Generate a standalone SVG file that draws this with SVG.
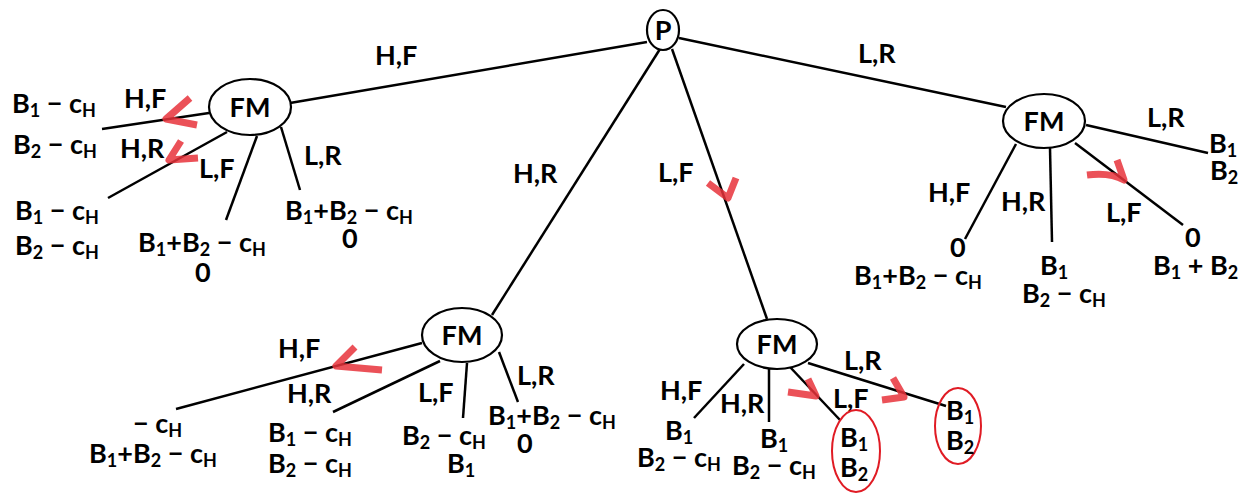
<svg xmlns="http://www.w3.org/2000/svg" width="1251" height="495" viewBox="0 0 1251 495">
<style>
.t{font-family:Lato,"Open Sans","Liberation Sans",sans-serif;font-weight:bold;font-size:27px;fill:#000}
.s{font-size:18px}
.n{fill:#fff;stroke:#000;stroke-width:2.2}
.r{fill:none;stroke:#e01b24;stroke-width:2}
.e line{stroke:#000;stroke-width:2.5}
.ck{fill:none;stroke:#e8333b;stroke-opacity:0.85;stroke-width:7;stroke-linecap:butt;stroke-linejoin:round}
</style>
<rect width="1251" height="495" fill="#fff"/>
<g id="connectors" class="e">
<line x1="647" y1="42" x2="290" y2="103"/>
<line x1="660" y1="49" x2="492" y2="315"/>
<line x1="672" y1="49" x2="767" y2="319"/>
<line x1="679" y1="38" x2="1006" y2="107"/>
<line x1="209" y1="113" x2="102" y2="129"/>
<line x1="227" y1="132" x2="108" y2="198"/>
<line x1="257" y1="136" x2="226" y2="220"/>
<line x1="281" y1="127" x2="300" y2="190"/>
<line x1="422" y1="343" x2="176" y2="409"/>
<line x1="440" y1="361" x2="333" y2="412"/>
<line x1="467" y1="363" x2="463" y2="418"/>
<line x1="499" y1="352" x2="518" y2="402"/>
<line x1="744" y1="364" x2="694" y2="418"/>
<line x1="769" y1="369" x2="769" y2="422"/>
<line x1="790" y1="367" x2="840" y2="420"/>
<line x1="808" y1="363" x2="946" y2="406"/>
<line x1="1086" y1="125" x2="1208" y2="153"/>
<line x1="1016" y1="144" x2="965" y2="239"/>
<line x1="1050" y1="148" x2="1052" y2="242"/>
<line x1="1075" y1="143" x2="1183" y2="225"/>
</g>
<g id="P"><ellipse class="n" cx="663" cy="30" rx="16" ry="20"/><text class="t" x="663" y="40" text-anchor="middle">P</text></g>
<g id="FM-left"><ellipse class="n" cx="250" cy="107" rx="41" ry="28"/><text class="t" x="250" y="117" text-anchor="middle">FM</text></g>
<g id="FM-bottom-left"><ellipse class="n" cx="462" cy="335" rx="40" ry="27"/><text class="t" x="462" y="345" text-anchor="middle">FM</text></g>
<g id="FM-bottom-mid"><ellipse class="n" cx="777" cy="344" rx="40" ry="25"/><text class="t" x="777" y="354" text-anchor="middle">FM</text></g>
<g id="FM-right"><ellipse class="n" cx="1044" cy="121" rx="41" ry="27"/><text class="t" x="1044" y="131" text-anchor="middle">FM</text></g>
<g id="labels-top">
<text class="t" x="375" y="65">H,F</text>
<text class="t" x="513" y="183">H,R</text>
<text class="t" x="658" y="182">L,F</text>
<text class="t" x="858" y="63">L,R</text>
</g>
<g id="leaves-left">
<text class="t" x="124" y="108">H,F</text>
<text class="t" x="120" y="158">H,R</text>
<text class="t" x="199" y="178">L,F</text>
<text class="t" x="304" y="165">L,R</text>
<text class="t" x="12" y="113">B<tspan class="s" dy="4">1</tspan><tspan dy="-4"> − c</tspan><tspan class="s" dy="4">H</tspan></text>
<text class="t" x="13" y="154">B<tspan class="s" dy="4">2</tspan><tspan dy="-4"> − c</tspan><tspan class="s" dy="4">H</tspan></text>
<text class="t" x="15" y="220">B<tspan class="s" dy="4">1</tspan><tspan dy="-4"> − c</tspan><tspan class="s" dy="4">H</tspan></text>
<text class="t" x="15" y="255">B<tspan class="s" dy="4">2</tspan><tspan dy="-4"> − c</tspan><tspan class="s" dy="4">H</tspan></text>
<text class="t" x="138" y="252">B<tspan class="s" dy="4">1</tspan><tspan dy="-4">+B</tspan><tspan class="s" dy="4">2</tspan><tspan dy="-4"> − c</tspan><tspan class="s" dy="4">H</tspan></text>
<text class="t" x="195" y="282">0</text>
<text class="t" x="285" y="220">B<tspan class="s" dy="4">1</tspan><tspan dy="-4">+B</tspan><tspan class="s" dy="4">2</tspan><tspan dy="-4"> − c</tspan><tspan class="s" dy="4">H</tspan></text>
<text class="t" x="342" y="248">0</text>
</g>
<g id="leaves-bottom-left">
<text class="t" x="278" y="358">H,F</text>
<text class="t" x="287" y="403">H,R</text>
<text class="t" x="418" y="402">L,F</text>
<text class="t" x="517" y="385">L,R</text>
<text class="t" x="133" y="433">− c<tspan class="s" dy="4">H</tspan></text>
<text class="t" x="89" y="463">B<tspan class="s" dy="4">1</tspan><tspan dy="-4">+B</tspan><tspan class="s" dy="4">2</tspan><tspan dy="-4"> − c</tspan><tspan class="s" dy="4">H</tspan></text>
<text class="t" x="268" y="442">B<tspan class="s" dy="4">1</tspan><tspan dy="-4"> − c</tspan><tspan class="s" dy="4">H</tspan></text>
<text class="t" x="268" y="473">B<tspan class="s" dy="4">2</tspan><tspan dy="-4"> − c</tspan><tspan class="s" dy="4">H</tspan></text>
<text class="t" x="402" y="445">B<tspan class="s" dy="4">2</tspan><tspan dy="-4"> − c</tspan><tspan class="s" dy="4">H</tspan></text>
<text class="t" x="447" y="473">B<tspan class="s" dy="4">1</tspan></text>
<text class="t" x="488" y="425">B<tspan class="s" dy="4">1</tspan><tspan dy="-4">+B</tspan><tspan class="s" dy="4">2</tspan><tspan dy="-4"> − c</tspan><tspan class="s" dy="4">H</tspan></text>
<text class="t" x="517" y="453">0</text>
</g>
<g id="leaves-bottom-mid">
<text class="t" x="660" y="400">H,F</text>
<text class="t" x="720" y="413">H,R</text>
<text class="t" x="833" y="408">L,F</text>
<text class="t" x="844" y="370">L,R</text>
<text class="t" x="665" y="440">B<tspan class="s" dy="4">1</tspan></text>
<text class="t" x="637" y="467">B<tspan class="s" dy="4">2</tspan><tspan dy="-4"> − c</tspan><tspan class="s" dy="4">H</tspan></text>
<text class="t" x="760" y="448">B<tspan class="s" dy="4">1</tspan></text>
<text class="t" x="732" y="475">B<tspan class="s" dy="4">2</tspan><tspan dy="-4"> − c</tspan><tspan class="s" dy="4">H</tspan></text>
<ellipse class="r" cx="856" cy="451" rx="24" ry="41"/>
<text class="t" x="840" y="447">B<tspan class="s" dy="4">1</tspan></text>
<text class="t" x="840" y="477">B<tspan class="s" dy="4">2</tspan></text>
<ellipse class="r" cx="958" cy="426" rx="23" ry="38"/>
<text class="t" x="946" y="420">B<tspan class="s" dy="4">1</tspan></text>
<text class="t" x="946" y="450">B<tspan class="s" dy="4">2</tspan></text>
</g>
<g id="leaves-right">
<text class="t" x="1147" y="127">L,R</text>
<text class="t" x="1209" y="153">B<tspan class="s" dy="4">1</tspan></text>
<text class="t" x="1210" y="180">B<tspan class="s" dy="4">2</tspan></text>
<text class="t" x="928" y="202">H,F</text>
<text class="t" x="1001" y="211">H,R</text>
<text class="t" x="1106" y="222">L,F</text>
<text class="t" x="950" y="257">0</text>
<text class="t" x="854" y="285">B<tspan class="s" dy="4">1</tspan><tspan dy="-4">+B</tspan><tspan class="s" dy="4">2</tspan><tspan dy="-4"> − c</tspan><tspan class="s" dy="4">H</tspan></text>
<text class="t" x="1040" y="275">B<tspan class="s" dy="4">1</tspan></text>
<text class="t" x="1022" y="303">B<tspan class="s" dy="4">2</tspan><tspan dy="-4"> − c</tspan><tspan class="s" dy="4">H</tspan></text>
<text class="t" x="1185" y="247">0</text>
<text class="t" x="1153" y="275">B<tspan class="s" dy="4">1</tspan><tspan dy="-4"> + B</tspan><tspan class="s" dy="4">2</tspan></text>
</g>
<g id="red-checks">
<path class="ck" d="M190 98 L166 119 L197 125"/>
<path class="ck" d="M181 141 L169 160 L198 158"/>
<path class="ck" d="M355 347 L336 366 L382 370"/>
<path class="ck" d="M708 183 L728 198 L736 178"/>
<path class="ck" d="M1087 175 Q1110 172 1124 180 L1117 160"/>
<path class="ck" d="M788 392 L816 396 L808 379"/>
<path class="ck" d="M882 400 L904 397 L893 378"/>
</g>
</svg>
